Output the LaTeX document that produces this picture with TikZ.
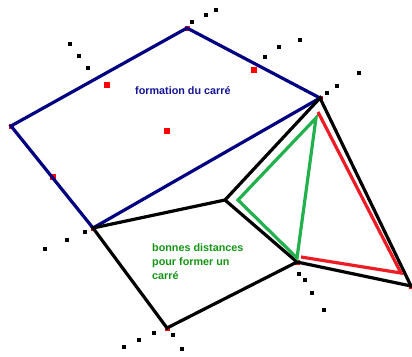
\documentclass[tikz,border=0pt]{standalone}
\usepackage{fontspec}
\setmainfont{Liberation Sans}
\definecolor{carreblue}{RGB}{0,0,128}
\definecolor{textblue}{RGB}{20,20,150}
\definecolor{textgreen}{RGB}{20,150,20}
\definecolor{trigreen}{RGB}{34,177,76}
\definecolor{trired}{RGB}{237,28,36}

\begin{document}
\begin{tikzpicture}[
    x=1pt, y=-1pt,
    side/.style={line width=3.2pt, line join=miter},
    bluepath/.style={side, draw=carreblue},
    blackpath/.style={side, draw=black},
    greenpath/.style={side, draw=trigreen},
    redpath/.style={side, draw=trired},
    blackdot/.style={fill=black},
    redmark/.style={fill=red},
    textlabel/.style={inner sep=0pt, font=\bfseries\fontsize{10.8}{14}\selectfont}
]
\useasboundingbox[fill=white] (0,0) rectangle (412,356);

% vertices
\coordinate (top) at (187,28);
\coordinate (right) at (320,98);
\coordinate (left) at (11,126);
\coordinate (low) at (93,228);
\coordinate (mid) at (225,200);
\coordinate (foot) at (167,328);
\coordinate (knee) at (297,262);
\coordinate (tip) at (411,286);

% red marks under the vertices
\foreach \p in {top, right, left, low, foot, knee, tip}
    \fill[redmark] (\p) ++(-2.5,-2.5) rectangle ++(5,5);

% red marks of the square
\foreach \x/\y in {107/85, 167/131, 254/70, 53/177}
    \fill[redmark] (\x-3,\y-3) rectangle ++(6,6);

% black dots
\foreach \x/\y in {192/22, 206/15, 216/10, 70/44, 79/56, 88/68,
                   265/57, 279/47, 300/40, 327/93, 337/86, 359/73,
                   85/232, 67/240, 45/249, 154/333, 139/340, 124/347,
                   173/335, 182/349, 299/274, 305/280, 312/293, 324/310}
    \fill[blackdot] (\x-1.7,\y-1.7) rectangle ++(3.4,3.4);

% square
\draw[bluepath] (low) -- (left) -- (top) -- (right) -- (low);

% black polygon
\draw[blackpath] (right) -- (mid) -- (low) -- (foot) -- (knee) -- (tip) -- cycle;
\draw[blackpath] (mid) -- (knee);

% triangles
\coordinate (gtop) at (316,118);
\coordinate (gleft) at (238,200);
\coordinate (gbot) at (297,258);
\draw[greenpath] (gtop) -- (gleft) -- (gbot) -- cycle;

\coordinate (rtop) at (318,112);
\coordinate (rcorner) at (401,273);
\coordinate (rend) at (301,257);
\draw[redpath] (rtop) -- (rcorner) -- (rend);

% texts
\node[textlabel, text=textblue, anchor=base west] (title) at (135,94) {formation du carré};
\node[textlabel, text=textgreen, anchor=base west, align=left] (note) at (152,279)
    {bonnes distances\\pour former un\\carré};

\end{tikzpicture}
\end{document}
